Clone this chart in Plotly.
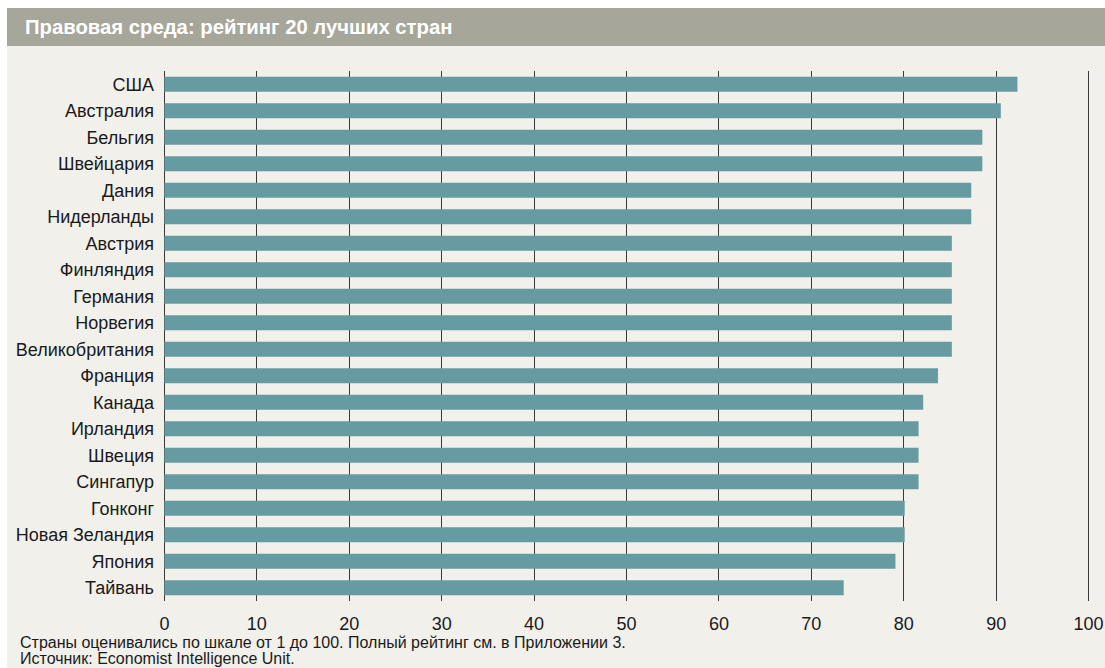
import plotly.graph_objects as go

countries = ["США", "Австралия", "Бельгия", "Швейцария", "Дания", "Нидерланды",
             "Австрия", "Финляндия", "Германия", "Норвегия", "Великобритания",
             "Франция", "Канада", "Ирландия", "Швеция", "Сингапур", "Гонконг",
             "Новая Зеландия", "Япония", "Тайвань"]
scores = [92.3, 90.5, 88.5, 88.5, 87.3, 87.3, 85.2, 85.2, 85.2, 85.2, 85.2,
          83.7, 82.1, 81.6, 81.6, 81.6, 80.1, 80.1, 79.1, 73.5]
tick_values = [0, 10, 20, 30, 40, 50, 60, 70, 80, 90, 100]

title_text = "Правовая среда: рейтинг 20 лучших стран"
note1 = "Страны оценивались по шкале от 1 до 100. Полный рейтинг см. в Приложении 3."
note2 = "Источник: Economist Intelligence Unit."

W, H = 1105, 668
L, R, T, B = 163, 15, 71, 67
pw = W - L - R
ph = H - T - B

def px(x):
    return (x - L) / pw

def py(y):
    return (H - B - y) / ph

FONT = "Liberation Sans, Arial, sans-serif"
BG = "#f1f0eb"

fig = go.Figure(go.Bar(
    x=scores, y=countries, orientation="h",
    marker=dict(color="#669ba1", line=dict(width=0)),
    width=0.57, hoverinfo="x+y",
))

fig.update_layout(
    width=W, height=H,
    margin=dict(l=L, r=R, t=T, b=B, pad=0, autoexpand=False),
    paper_bgcolor=BG,
    plot_bgcolor="rgba(0,0,0,0)",
    showlegend=False,
    font=dict(family=FONT, color="#1a1a1a", size=18),
    xaxis=dict(range=[-0.15, 100.15], tickvals=tick_values, showgrid=True,
               gridcolor="#3a3a3a", gridwidth=1.3, zeroline=False,
               showline=False, ticks="", ticklabelstandoff=10,
               tickfont=dict(size=18, color="#1a1a1a"), fixedrange=True,
               automargin=False),
    yaxis=dict(autorange="reversed", showgrid=False, zeroline=False,
               showline=False, ticks="", ticklabelstandoff=8,
               tickfont=dict(size=18, color="#1a1a1a"), fixedrange=True,
               automargin=False),
    shapes=[
        dict(type="rect", xref="paper", yref="paper", x0=px(0), x1=px(W + 5),
             y0=py(-5), y1=py(8), fillcolor="white", line=dict(width=0), layer="below"),
        dict(type="rect", xref="paper", yref="paper", x0=px(-5), x1=px(7),
             y0=py(-5), y1=py(H + 5), fillcolor="white", line=dict(width=0), layer="below"),
        dict(type="rect", xref="paper", yref="paper", x0=px(7), x1=px(W + 5),
             y0=py(8), y1=py(46), fillcolor="#a6a69a", line=dict(width=0), layer="below"),
    ],
    annotations=[
        dict(text="<b>" + title_text + "</b>", xref="paper", yref="paper",
             x=px(23), y=py(27), xanchor="left", yanchor="middle", showarrow=False,
             font=dict(family=FONT, size=20.3, color="white")),
        dict(text=note1, xref="paper", yref="paper", x=px(18), y=py(642),
             xanchor="left", yanchor="middle", showarrow=False,
             font=dict(family=FONT, size=16, color="#1a1a1a")),
        dict(text=note2, xref="paper", yref="paper", x=px(18), y=py(658),
             xanchor="left", yanchor="middle", showarrow=False,
             font=dict(family=FONT, size=16, color="#1a1a1a")),
    ],
)

fig.write_html(
    "out.html",
    config={"displayModeBar": False},
    post_script="document.body.style.margin='0';document.body.style.overflow='hidden';",
)
